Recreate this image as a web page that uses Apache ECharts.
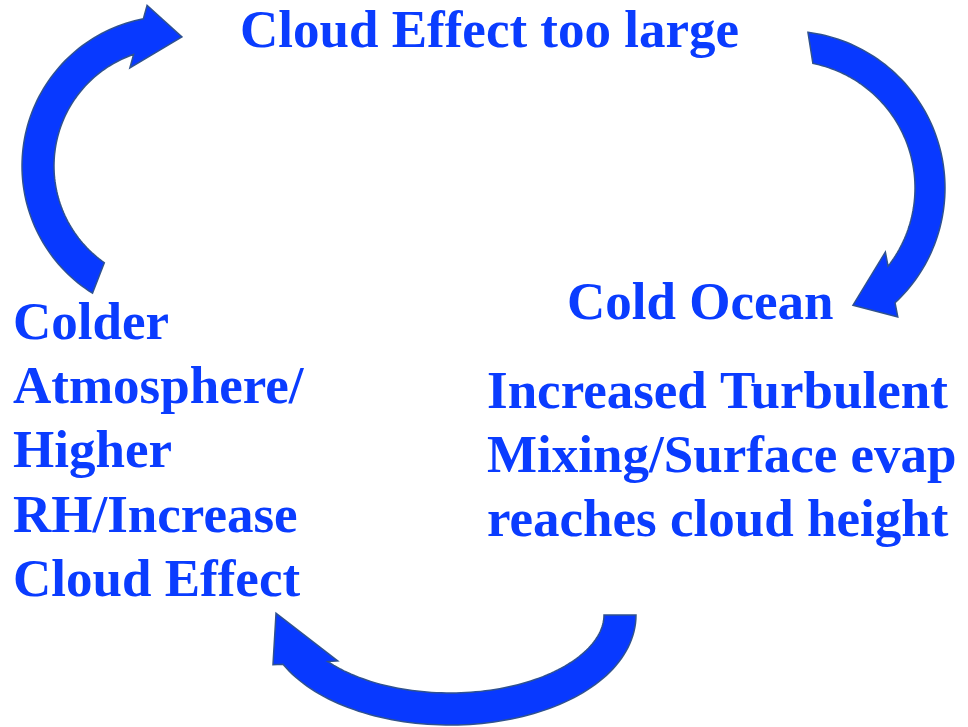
<!DOCTYPE html>
<html>
<head>
<meta charset="utf-8">
<script src="https://cdn.jsdelivr.net/npm/echarts@6/dist/echarts.min.js"></script>
<style>
  html, body { margin: 0; padding: 0; background: #ffffff; }
  #main { width: 968px; height: 727px; }
</style>
</head>
<body>
<div id="main"></div>
<script>
// 文本内容
var labelNames = ['title', 'ocean', 'mixing', 'atmos'];
var labelTexts = [
  'Cloud Effect too large',
  'Cold Ocean',
  'Increased Turbulent\nMixing/Surface evap\nreaches cloud height',
  'Colder\nAtmosphere/\nHigher\nRH/Increase\nCloud Effect'
];
// 文本锚点 (左上角, 像素坐标)
var labelX = [240, 567, 487, 13];
var labelY = [1, 273, 362, 293];

// 弧形箭头: 椭圆中心与中线半径
var arrowNames = ['left', 'right', 'bottom'];
var arrowCx = [172, 788, 450];
var arrowCy = [166, 188, 615];
var arrowRx = [134, 142, 170];
var arrowRy = [134, 142, 94];
var arrowWidth = [32, 30, 32];
// 箭尾 / 箭身末端角度 (外侧, 内侧), 单位: 度
var startOuter = [122, -82.7, 0];
var startInner = [125, -78.7, 0];
var endOuter = [259, 47, 155.5];
var endInner = [251, 38, 140.5];
// 箭头尖: 角度与偏移, 以及倒钩伸出长度
var tipAngle = [274.4, 61, 181];
var tipOffset = [-4.6, -8, 4];
var barbExt = [14, 14.5, 10];

var W = 968, H = 727;
var FONT = 'bold 53px "Liberation Serif", "Times New Roman", serif';
var BLUE = '#0a3cff';

function ellPoint (i, deg, off) {
  var t = deg * Math.PI / 180;
  var x = arrowCx[i] + arrowRx[i] * Math.cos(t);
  var y = arrowCy[i] + arrowRy[i] * Math.sin(t);
  var nx = arrowRy[i] * Math.cos(t);
  var ny = arrowRx[i] * Math.sin(t);
  var len = Math.sqrt(nx * nx + ny * ny);
  return [x + nx / len * off, y + ny / len * off];
}

function extend (from, to, d) {
  var dx = to[0] - from[0], dy = to[1] - from[1];
  var len = Math.sqrt(dx * dx + dy * dy);
  return [to[0] + dx / len * d, to[1] + dy / len * d];
}

var chart = echarts.init(document.getElementById('main'));

var option = {
  backgroundColor: '#ffffff',
  animation: false,
  grid: { left: 0, right: 0, top: 0, bottom: 0 },
  xAxis: { type: 'value', min: 0, max: W, show: false },
  yAxis: { type: 'value', min: 0, max: H, inverse: true, show: false },
  series: [
    {
      name: 'arrows',
      type: 'custom',
      data: arrowNames.map(function (n, i) { return [i]; }),
      renderItem: function (params, api) {
        var i = api.value(0);
        var half = arrowWidth[i] / 2;
        var steps = 80;
        var pts = [];
        var k, d;
        // 外侧边
        for (k = 0; k <= steps; k++) {
          d = startOuter[i] + (endOuter[i] - startOuter[i]) * k / steps;
          pts.push(ellPoint(i, d, half));
        }
        var oEnd = ellPoint(i, endOuter[i], half);
        var iEnd = ellPoint(i, endInner[i], -half);
        pts.push(extend(iEnd, oEnd, barbExt[i]));
        pts.push(ellPoint(i, tipAngle[i], tipOffset[i]));
        pts.push(extend(oEnd, iEnd, barbExt[i]));
        // 内侧边
        for (k = steps; k >= 0; k--) {
          d = startInner[i] + (endInner[i] - startInner[i]) * k / steps;
          pts.push(ellPoint(i, d, -half));
        }
        return {
          type: 'polygon',
          shape: { points: pts.map(function (p) { return api.coord(p); }) },
          style: { fill: '#0839ff', stroke: '#2f528f', lineWidth: 1.5 }
        };
      }
    },
    {
      name: 'labels',
      type: 'custom',
      data: labelNames.map(function (n, i) { return [labelX[i], labelY[i], i]; }),
      renderItem: function (params, api) {
        var p = api.coord([api.value(0), api.value(1)]);
        var i = api.value(2);
        return {
          type: 'text',
          x: p[0],
          y: p[1],
          style: {
            text: labelTexts[i],
            font: FONT,
            fill: BLUE,
            align: 'left',
            verticalAlign: 'top',
            lineHeight: 64.3
          }
        };
      }
    }
  ]
};

chart.setOption(option);
</script>
</body>
</html>
